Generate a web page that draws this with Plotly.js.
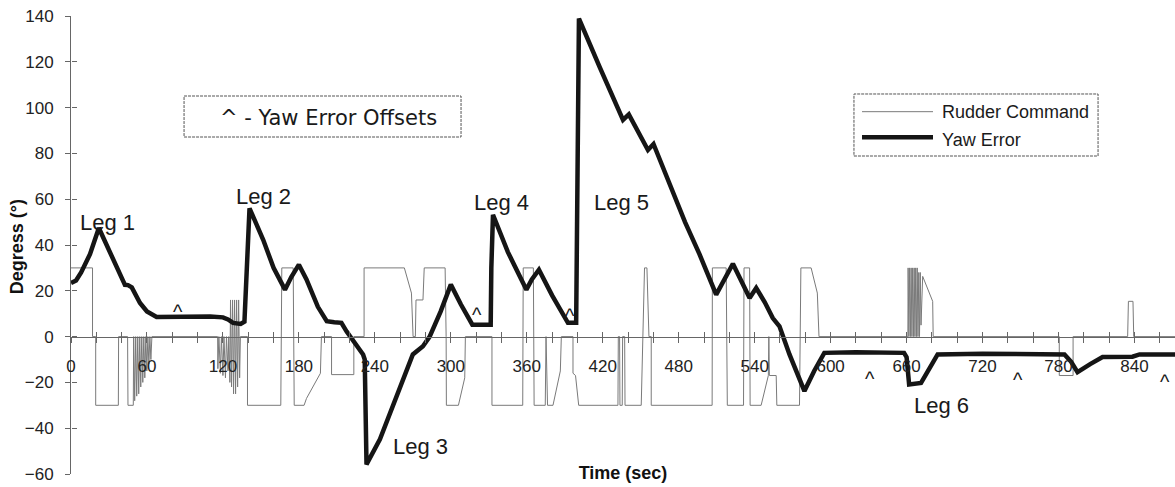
<!DOCTYPE html>
<html>
<head>
<meta charset="utf-8">
<script src="https://cdn.plot.ly/plotly-3.0.1.min.js"></script>
<style>html,body{margin:0;padding:0;background:#fff;}#chart{width:1175px;height:487px;}</style>
</head>
<body>
<div id="chart"></div>
<script>
// Yaw Error (time sec, degrees)
var yawT = [0,4,8,15,22,28.2,42.6,45,48,54.5,60,67.6,90,110,120,124,128,134,137,138.6,140,141,151.8,160,169,174,180,186,195,202,208,213.6,217.6,225.5,230.7,232,233.4,244,255,270,278,283.3,292,300,308,317,324,331.5,332,333.3,345,359.7,364,369.6,380,392.5,399,400,401.2,417.5,436,440.6,455.7,460.1,485,496.4,509.6,522.8,536,541.2,548,554.3,559.6,567.5,579.3,587,595,620,640,658,660,662,671.4,678,684.5,720,760,784.7,790,795,805,814.8,838.4,844,872];
var yawV = [23.4,24.5,28,36,47.4,40,22.6,22.5,21.5,14.7,11,8.6,8.8,8.8,8.4,7.5,6,5.5,6.5,25,50,56,42.3,30,20.5,26,31.4,25,13,6.7,6.3,6,2.3,-4.2,-7.8,-10,-55.8,-44.9,-29,-7.8,-4.2,0,11,22.7,14,5.2,5.2,5.2,30,53.2,37,20.5,25,29.2,18,6,6,60,138.9,117.8,94.6,97,81.5,84.1,50,36,18.3,31.8,16.9,21.2,15,8.1,4.5,-7.8,-23.8,-15,-7.1,-6.8,-6.8,-7.1,-9,-20.9,-20.2,-14,-7.8,-7.5,-7.5,-7.8,-11,-15.5,-12,-8.9,-8.8,-7.8,-7.8];

// Rudder Command (time sec, degrees)
var rudT = [0,17,17,19.5,19.5,37.4,37.6,44.7,45,49.2,49.5,50.3,51.1,51.9,52.7,53.5,54.3,55.1,55.9,56.7,57.5,58.3,59.1,59.9,60.7,61.5,62.3,63.1,63.9,
  115.8,116,116.8,118,118.8,120,120.8,122,122.8,124,124.6,125.5,126,126.8,127.6,128.4,129.2,130,130.8,131.6,132.4,133.2,133.8,
  139.4,139.4,165.7,166.5,175.5,176.3,184.1,186,197,197.8,205.8,205.8,223.4,223.4,231.5,231.5,263.3,268.9,270.2,272,272.5,278,279,295.5,296.3,296.5,306,311,311.5,
  332.5,332.5,356.8,357.2,365.2,365.8,374.6,375.2,376.4,380.7,386.5,387.3,396.5,396.5,398.5,401,
  432,432.3,433.3,433.6,435.4,435.7,437.3,437.6,450.4,453,454.9,456.5,458.3,458.3,506.4,506.6,517.5,518.4,531.2,531.6,536,536.4,545.1,550.8,551.2,551.6,557,557.5,575.4,576.5,584.6,589.5,590.8,
  661,661.2,661.8,662.4,663,663.6,664.2,664.8,665.4,666,666.6,667.2,667.8,668.4,669,669.6,670.2,670.8,671.4,672.7,680.6,681,
  780.6,780.6,791.5,791.5,834.6,835.2,838.8,839.4,872];
var rudV = [30,30,0,0,-30,-30,0,0,-30,-30,0,-28,0,-26,0,-25,0,-22,0,-20,0,-18,0,-15,0,-12,0,-10,0,
  0,-14,0,-16,0,-17,0,-18,0,-15,0,-20,16,-22,16,-25,16,-25,16,-22,16,-18,0,
  0,-30,-30,30,30,-30,-30,-27,-16,0,0,-16.6,-16.6,0,0,30,30,19,0,0,16,16,30,30,0,-30,-30,-18,0,
  0,-30,-30,30,30,-30,-30,0,-30,-30,-15,0,0,-16,-17,-30,
  -30,0,0,-30,-30,0,0,-30,-30,30,30,0,0,-30,-30,30,30,-30,-30,30,30,-30,-30,-17,0,-17,-17,-30,-30,30,30,19,0,
  0,30,0,30,0,30,0,30,0,30,0,30,0,30,0,28,0,28,5,26.3,15.4,0,
  0,-17,-17,0,0,15.4,15.4,0,0];

// Axis ticks
var xTickVals = [];
for (var k = 0; k <= 860; k += 20) xTickVals.push(k);
var xTickText = xTickVals.map(function(v){ return v % 60 === 0 ? String(v) : ''; });
var yTickVals = [-60,-40,-20,0,20,40,60,80,100,120,140];

// Text labels
var legTexts = ['Leg 1','Leg 2','Leg 3','Leg 4','Leg 5','Leg 6'];
var legX = [29.2,151.8,276,340.4,434.6,687.7];
var legY = [49.7,61.1,-47.8,58.7,58.7,-29.9];
var caretX = [84.7,321,394.4,631.4,748.2,864];
var caretY = [13.2,12,11.8,-15.8,-16.5,-17.3];

var FONT = 'Liberation Sans, Arial, Helvetica, sans-serif';

var traces = [
  {x: rudT, y: rudV, mode: 'lines', name: 'Rudder Command', line: {color: '#7a7a7a', width: 1}, showlegend: false},
  {x: yawT, y: yawV, mode: 'lines', name: 'Yaw Error', line: {color: '#151515', width: 4.5}, showlegend: false},
  {x: [], y: [], xaxis: 'x2', yaxis: 'y2', mode: 'lines', showlegend: false, hoverinfo: 'skip'}
];

var annotations = [];
for (var i = 0; i < legTexts.length; i++) {
  annotations.push({x: legX[i], y: legY[i], xref: 'x', yref: 'y', text: legTexts[i], showarrow: false,
    xanchor: 'center', yanchor: 'middle', font: {family: FONT, size: 22, color: '#1a1a1a'}});
}
for (var j = 0; j < caretX.length; j++) {
  annotations.push({x: caretX[j], y: caretY[j], xref: 'x', yref: 'y', text: '^', showarrow: false,
    xanchor: 'center', yanchor: 'middle', yshift: -6, font: {family: FONT, size: 20, color: '#1a1a1a'}});
}
annotations.push({x: 0.2332, y: 0.7773, xref: 'paper', yref: 'paper', text: '^ - Yaw Error Offsets', showarrow: false,
  xanchor: 'center', yanchor: 'middle', font: {family: 'DejaVu Sans, sans-serif', size: 21, color: '#1a1a1a'}});
annotations.push({x: 0.7871, y: 0.7911, xref: 'paper', yref: 'paper', text: 'Rudder Command', showarrow: false,
  xanchor: 'left', yanchor: 'middle', font: {family: FONT, size: 18, color: '#1a1a1a'}});
annotations.push({x: 0.7871, y: 0.7293, xref: 'paper', yref: 'paper', text: 'Yaw Error', showarrow: false,
  xanchor: 'left', yanchor: 'middle', font: {family: FONT, size: 18, color: '#1a1a1a'}});
annotations.push({x: -0.0489, y: 0.495, xref: 'paper', yref: 'paper', text: '<b>Degress (°)</b>', showarrow: false,
  textangle: -90, xanchor: 'center', yanchor: 'middle', font: {family: FONT, size: 18, color: '#111'}});

var shapes = [
  {type: 'rect', xref: 'paper', yref: 'paper', x0: 0.1024, x1: 0.3533, y0: 0.7358, y1: 0.8253,
    line: {color: '#555', width: 1, dash: '3px,1px'}},
  {type: 'rect', xref: 'paper', yref: 'paper', x0: 0.7092, x1: 0.9303, y0: 0.6943, y1: 0.8297,
    line: {color: '#555', width: 1, dash: '3px,1px'}},
  {type: 'line', xref: 'paper', yref: 'paper', x0: 0.7165, x1: 0.7808, y0: 0.7911, y1: 0.7911,
    line: {color: '#7a7a7a', width: 1}},
  {type: 'line', xref: 'paper', yref: 'paper', x0: 0.7165, x1: 0.7808, y0: 0.7352, y1: 0.7352,
    line: {color: '#151515', width: 4.5}}
];

var layout = {
  width: 1175, height: 487,
  margin: {l: 71, r: 0, t: 16, b: 13},
  paper_bgcolor: '#fff', plot_bgcolor: '#fff',
  font: {family: FONT, color: '#1a1a1a'},
  showlegend: false,
  xaxis: {
    range: [0, 872], anchor: 'free', position: 0.3,
    showline: true, linecolor: '#666', linewidth: 1,
    ticks: 'outside', ticklen: 5, tickcolor: '#666', tickwidth: 1,
    tickmode: 'array', tickvals: xTickVals, ticktext: xTickText,
    ticklabelstandoff: 9,
    tickfont: {family: FONT, size: 17, color: '#222'},
    showgrid: false, zeroline: false,
    title: {text: '<b>Time (sec)</b>', font: {family: FONT, size: 18, color: '#111'}, standoff: 91}
  },
  yaxis: {
    range: [-60, 140],
    showline: true, linecolor: '#666', linewidth: 1,
    ticks: 'outside', ticklen: 5, tickcolor: '#666', tickwidth: 1,
    tickmode: 'array', tickvals: yTickVals,
    ticklabelstandoff: 8,
    tickfont: {family: FONT, size: 17, color: '#222'},
    showgrid: false, zeroline: false
  },
  xaxis2: {
    range: [0, 872], overlaying: 'x', anchor: 'free', position: 0.3,
    showline: false, ticks: 'inside', ticklen: 5, tickcolor: '#666', tickwidth: 1,
    tickmode: 'array', tickvals: xTickVals, showticklabels: false,
    showgrid: false, zeroline: false
  },
  yaxis2: {
    range: [-60, 140], overlaying: 'y', anchor: 'free', position: 0, side: 'left',
    showline: false, ticks: 'inside', ticklen: 5, tickcolor: '#666', tickwidth: 1,
    tickmode: 'array', tickvals: yTickVals, showticklabels: false,
    showgrid: false, zeroline: false
  },
  annotations: annotations,
  shapes: shapes
};

Plotly.newPlot('chart', traces, layout, {displayModeBar: false, staticPlot: true});
</script>
</body>
</html>
